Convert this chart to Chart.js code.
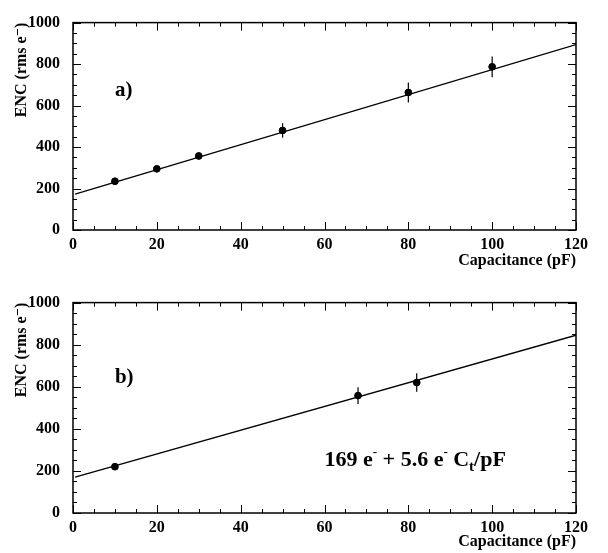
<!DOCTYPE html>
<html>
<head>
<meta charset="utf-8">
<script src="https://cdn.jsdelivr.net/npm/chart.js@4.4.1/dist/chart.umd.min.js"></script>
<style>
  html, body { margin:0; padding:0; background:#fff; }
  #wrap { position:relative; width:608px; height:553px; overflow:hidden; }
  canvas { position:absolute; left:0; }
</style>
</head>
<body>
<div id="wrap">
  <canvas id="cA" width="608" height="272" style="top:0px"></canvas>
  <canvas id="cB" width="608" height="273" style="top:280px"></canvas>
</div>
<script>
// ---- Panel a) data ----
const capA = [10, 20, 30, 50, 80, 100];
const encA = [235, 295, 357, 480, 663, 787];
const errA = [12, 14, 17, 35, 48, 50];
const fitAx = [0.5, 120];
const fitAy = [173, 894];

// ---- Panel b) data ----
const capB = [10, 68, 82];
const encB = [220, 558, 620];
const errB = [10, 40, 44];
const fitBx = [0.5, 120];
const fitBy = [170, 845];

// ---- axis labels ----
const xTitle = 'Capacitance (pF)';
const yTitle = 'ENC (rms e\u207B)';
const xMin = 0, xMax = 120, xStep = 20, xMinorStep = 5;
const yMin = 0, yMax = 1000, yStep = 200, yMinorStep = 50;

const FONT = "'Liberation Serif', 'DejaVu Serif', serif";

function drawRich(ctx, parts, x, y, size) {
  let cx = x;
  parts.forEach(p => {
    const s = p.s || 1;
    ctx.font = 'bold ' + Math.round(size * s) + 'px ' + FONT;
    ctx.fillText(p.t, cx, y + (p.dy || 0) * size);
    cx += ctx.measureText(p.t).width;
  });
}

const framePlugin = {
  id: 'framePlugin',
  afterDatasetsDraw(chart, args, opts) {
    const { ctx, chartArea: { left, right, top, bottom }, scales: { x, y } } = chart;
    ctx.save();
    ctx.strokeStyle = '#000';
    // error bars
    ctx.lineWidth = 1.2;
    opts.cap.forEach((c, i) => {
      const px = x.getPixelForValue(c);
      ctx.beginPath();
      ctx.moveTo(px, y.getPixelForValue(opts.enc[i] - opts.err[i]));
      ctx.lineTo(px, y.getPixelForValue(opts.enc[i] + opts.err[i]));
      ctx.stroke();
    });
    // ticks
    ctx.lineWidth = 1;
    for (let v = xMin; v <= xMax; v += xMinorStep) {
      const px = Math.round(x.getPixelForValue(v)) + 0.5;
      const len = (v % xStep === 0) ? 8 : 4;
      ctx.beginPath();
      ctx.moveTo(px, bottom); ctx.lineTo(px, bottom - len);
      ctx.moveTo(px, top); ctx.lineTo(px, top + len);
      ctx.stroke();
    }
    for (let v = yMin; v <= yMax; v += yMinorStep) {
      const py = Math.round(y.getPixelForValue(v)) + 0.5;
      const len = (v % yStep === 0) ? 8 : 4;
      ctx.beginPath();
      ctx.moveTo(left, py); ctx.lineTo(left + len, py);
      ctx.moveTo(right, py); ctx.lineTo(right - len, py);
      ctx.stroke();
    }
    // frame
    ctx.lineWidth = 1.5;
    ctx.strokeRect(left, top, right - left, bottom - top);
    // panel label
    ctx.fillStyle = '#000';
    ctx.textBaseline = 'alphabetic';
    ctx.font = 'bold 21px ' + FONT;
    ctx.fillText(opts.label, x.getPixelForValue(opts.labelPos[0]), y.getPixelForValue(opts.labelPos[1]));
    if (opts.formula) {
      drawRich(ctx, [
        { t: '169 e' }, { t: '-', s: 0.6, dy: -0.45 }, { t: ' + 5.6 e' }, { t: '-', s: 0.6, dy: -0.45 },
        { t: ' C' }, { t: 't', s: 0.7, dy: 0.25 }, { t: '/pF' }
      ], x.getPixelForValue(opts.formulaPos[0]), y.getPixelForValue(opts.formulaPos[1]), 22);
    }
    ctx.restore();
  }
};

function makeChart(id, cap, enc, err, fx, fy, label, labelPos, formula, topPad, xHeight) {
  return new Chart(document.getElementById(id), {
    type: 'scatter',
    data: {
      datasets: [
        {
          data: cap.map((c, i) => ({ x: c, y: enc[i] })),
          backgroundColor: '#000', borderColor: '#000',
          pointRadius: 3.4, pointHoverRadius: 3.4, showLine: false
        },
        {
          data: fx.map((c, i) => ({ x: c, y: fy[i] })),
          borderColor: '#000', borderWidth: 1.3, pointRadius: 0, showLine: true, fill: false
        }
      ]
    },
    options: {
      responsive: false, animation: false, devicePixelRatio: 1,
      layout: { padding: { top: topPad, right: 32, left: 0, bottom: 0 } },
      plugins: {
        legend: { display: false }, tooltip: { enabled: false },
        framePlugin: { cap, enc, err, label, labelPos,
          formula: formula, formulaPos: [60, 224] }
      },
      scales: {
        x: {
          type: 'linear', min: xMin, max: xMax,
          grid: { display: false, drawTicks: false },
          border: { display: false },
          ticks: { stepSize: xStep, padding: 5, color: '#000', font: { family: FONT, size: 16, weight: 'bold' } },
          title: { display: true, text: xTitle, align: 'end', color: '#000', padding: { top: 0, bottom: 2 },
                   font: { family: FONT, size: 16, weight: 'bold' } },
          afterFit(s) { s.height = xHeight; }
        },
        y: {
          type: 'linear', min: yMin, max: yMax,
          grid: { display: false, drawTicks: false },
          border: { display: false },
          ticks: { stepSize: yStep, padding: 13, color: '#000',
                   callback: v => String(v),
                   font: { family: FONT, size: 16, weight: 'bold' } },
          title: { display: true, text: yTitle, align: 'end', color: '#000', padding: { top: 12, bottom: 0 },
                   font: { family: FONT, size: 16, weight: 'bold' } },
          afterFit(s) { s.width = 73; }
        }
      }
    },
    plugins: [framePlugin]
  });
}

makeChart('cA', capA, encA, errA, fitAx, fitAy, 'a)', [10, 645], false, 10, 42);
makeChart('cB', capB, encB, errB, fitBx, fitBy, 'b)', [10, 616], true, 14, 40);
</script>
</body>
</html>
